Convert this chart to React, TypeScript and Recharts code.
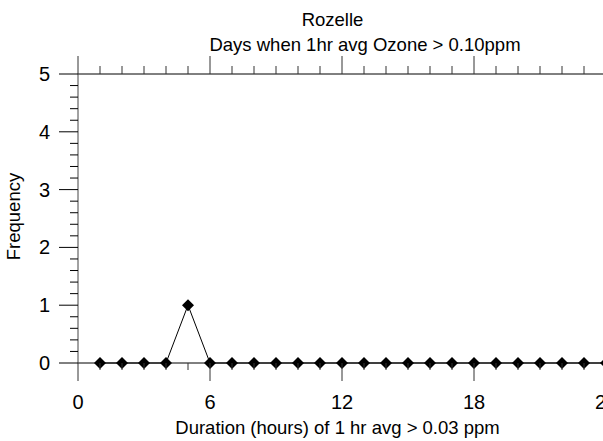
import { LineChart, Line, XAxis, YAxis } from "recharts"

const hours = [1, 2, 3, 4, 5, 6, 7, 8, 9, 10, 11, 12, 13, 14, 15, 16, 17, 18, 19, 20, 21, 22, 23, 24]
const frequency = [0, 0, 0, 0, 1, 0, 0, 0, 0, 0, 0, 0, 0, 0, 0, 0, 0, 0, 0, 0, 0, 0, 0, 0]

const xTicks = [0, 1, 2, 3, 4, 5, 6, 7, 8, 9, 10, 11, 12, 13, 14, 15, 16, 17, 18, 19, 20, 21, 22, 23, 24]
const xMajor = [0, 6, 12, 18, 24]
const yTicks = [
  0, 0.2, 0.4, 0.6, 0.8, 1, 1.2, 1.4, 1.6, 1.8, 2, 2.2, 2.4, 2.6, 2.8, 3, 3.2, 3.4, 3.6, 3.8, 4, 4.2, 4.4, 4.6,
  4.8, 5,
]

const data = hours.map((h, i) => ({ hour: h, freq: frequency[i] }))

const FONT = "'Liberation Sans', Arial, sans-serif"

const isWhole = (v: number) => Math.abs(v - Math.round(v)) < 1e-6

function BottomTick(props: any) {
  const { x, y, payload } = props
  const major = xMajor.includes(payload.value)
  return (
    <g>
      <line x1={x} x2={x} y1={y} y2={y + (major ? 18 : 7)} stroke="#333" />
      {major && (
        <text x={x} y={409} textAnchor="middle" fontSize={20} fontFamily={FONT} fill="#000">
          {payload.value}
        </text>
      )}
    </g>
  )
}

function TopTick(props: any) {
  const { x, y, payload } = props
  const major = xMajor.includes(payload.value)
  return <line x1={x} x2={x} y1={y} y2={y - (major ? 18 : 8)} stroke="#333" />
}

function LeftTick(props: any) {
  const { x, y, payload } = props
  const major = isWhole(payload.value)
  return (
    <g>
      <line x1={x} x2={x - (major ? 19 : 8)} y1={y} y2={y} stroke="#000" />
      {major && (
        <text x={50} y={y + 7} textAnchor="end" fontSize={20} fontFamily={FONT} fill="#000">
          {Math.round(payload.value)}
        </text>
      )}
    </g>
  )
}

function Diamond(props: any) {
  const { cx, cy } = props
  if (cx == null || cy == null) return null
  const r = 6
  return <polygon points={`${cx},${cy - r} ${cx + r},${cy} ${cx},${cy + r} ${cx - r},${cy}`} fill="#000" />
}

export default function App() {
  return (
    <div style={{ position: "fixed", left: 0, top: 0, width: 603, height: 441, overflow: "hidden", background: "#fff" }}>
      <LineChart
        width={640}
        height={441}
        data={data}
        margin={{ top: 44, right: 34, bottom: 18, left: 18 }}
      >
        <XAxis
          xAxisId="bottom"
          dataKey="hour"
          type="number"
          domain={[0, 24]}
          ticks={xTicks}
          interval={0}
          orientation="bottom"
          height={60}
          tickSize={0}
          tickMargin={0}
          tickLine={false}
          axisLine={{ stroke: "#000" }}
          tick={<BottomTick />}
          allowDataOverflow
        />
        <XAxis
          xAxisId="top"
          dataKey="hour"
          type="number"
          domain={[0, 24]}
          ticks={xTicks}
          interval={0}
          orientation="top"
          height={30}
          tickSize={0}
          tickMargin={0}
          tickLine={false}
          axisLine={{ stroke: "#000" }}
          tick={<TopTick />}
          allowDataOverflow
        />
        <YAxis
          type="number"
          domain={[0, 5]}
          ticks={yTicks}
          interval={0}
          width={60}
          tickSize={0}
          tickMargin={0}
          tickLine={false}
          axisLine={{ stroke: "#444" }}
          tick={<LeftTick />}
        />
        <Line
          xAxisId="bottom"
          dataKey="freq"
          stroke="#000"
          strokeWidth={1}
          dot={<Diamond />}
          activeDot={false}
          isAnimationActive={false}
        />
      </LineChart>
      <svg
        width={603}
        height={441}
        style={{ position: "absolute", left: 0, top: 0, pointerEvents: "none" }}
        fontFamily={FONT}
      >
        <text x={332.5} y={26} textAnchor="middle" fontSize={18.5} fill="#000">
          Rozelle
        </text>
        <text x={365} y={51} textAnchor="middle" fontSize={18.5} fill="#000">
          Days when 1hr avg Ozone &gt; 0.10ppm
        </text>
        <text x={337.5} y={434} textAnchor="middle" fontSize={18.5} fill="#000">
          Duration (hours) of 1 hr avg &gt; 0.03 ppm
        </text>
        <text x={19.5} y={216.5} textAnchor="middle" fontSize={18.5} fill="#000" transform="rotate(-90 19.5 216.5)">
          Frequency
        </text>
      </svg>
    </div>
  )
}
